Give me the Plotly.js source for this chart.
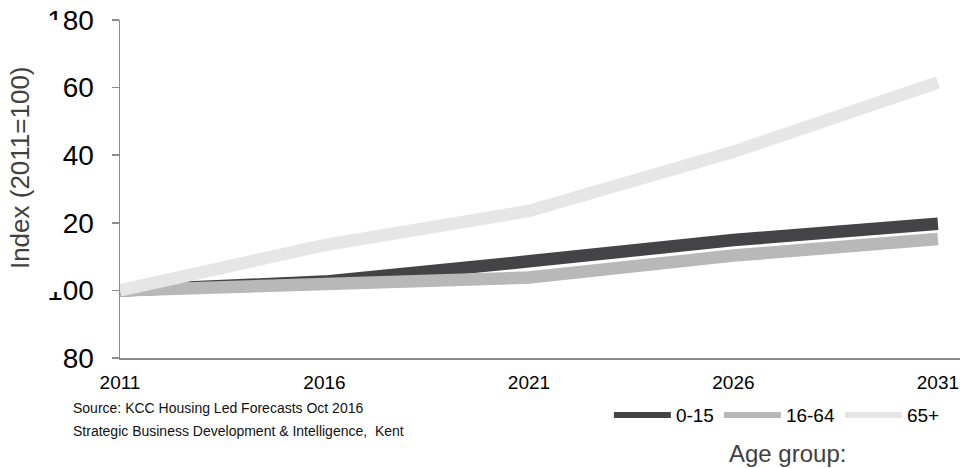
<!DOCTYPE html>
<html>
<head>
<meta charset="utf-8">
<script src="https://cdn.plot.ly/plotly-3.0.1.min.js"></script>
<style>
  html, body { margin: 0; padding: 0; background: #fff; }
  #chart { width: 960px; height: 468px; }
</style>
</head>
<body>
<div id="chart"></div>
<script>
// Population index by age group, Kent (2011 = 100)
const years = [2011, 2016, 2021, 2026, 2031];
const age0to15 = [100, 102.6, 108.6, 114.9, 119.7];
const age16to64 = [100, 101.5, 103.8, 110.3, 115.2];
const age65plus = [100, 113.4, 123.5, 141.0, 161.5];

const seriesNames = ['0-15', '16-64', '65+'];
const seriesValues = [age0to15, age16to64, age65plus];
const seriesColors = ['#444446', '#b8b8b9', '#e6e6e6'];

const yTicks = [80, 100, 120, 140, 160, 180];
const xTicks = [2011, 2016, 2021, 2026, 2031];

const traces = [];
// thick data lines
seriesNames.forEach((name, i) => {
  traces.push({
    type: 'scatter', mode: 'lines', name: name,
    x: years, y: seriesValues[i],
    line: { color: seriesColors[i], width: 12.5 },
    showlegend: false, hoverinfo: 'x+y+name'
  });
});
// legend keys with thinner strokes
seriesNames.forEach((name, i) => {
  traces.push({
    type: 'scatter', mode: 'lines', name: name,
    x: [null], y: [null],
    line: { color: seriesColors[i], width: 6 },
    showlegend: true, hoverinfo: 'skip'
  });
});

const layout = {
  width: 960, height: 468,
  margin: { l: 120, r: 0, t: 20, b: 110 },
  paper_bgcolor: '#ffffff', plot_bgcolor: '#ffffff',
  font: { family: 'Liberation Sans, Arial, sans-serif', color: '#000' },
  showlegend: true,
  xaxis: {
    range: [2011, 2031.54],
    tickvals: xTicks, ticktext: xTicks.map(String),
    showgrid: false, zeroline: false,
    showline: true, linecolor: '#8c8c8c', linewidth: 1.5,
    ticks: '', tickfont: { size: 19, color: '#000' },
    ticklabelstandoff: 7
  },
  yaxis: {
    range: [80, 180],
    tickvals: yTicks, ticktext: yTicks.map(String),
    showgrid: false, zeroline: false,
    showline: true, linecolor: '#8c8c8c', linewidth: 1.5,
    ticks: 'outside', ticklen: 7, tickwidth: 1.5, tickcolor: '#8c8c8c',
    tickfont: { size: 28, color: '#000' },
    ticklabelstandoff: 12
  },
  legend: {
    orientation: 'h',
    x: 0.582, xanchor: 'left',
    y: -0.113, yanchor: 'top',
    font: { size: 19, color: '#000' },
    itemwidth: 57,
    bgcolor: 'rgba(0,0,0,0)',
    traceorder: 'normal'
  },
  annotations: [
    {
      // vertical axis caption
      xref: 'paper', yref: 'paper', x: -0.119, y: 0.562,
      xanchor: 'center', yanchor: 'middle', showarrow: false, textangle: -90,
      text: 'Index (2011=100)', font: { size: 26, color: '#404040' }
    },
    {
      xref: 'paper', yref: 'paper', x: -0.058, y: -0.118,
      xanchor: 'left', yanchor: 'top', align: 'left', showarrow: false,
      text: 'Source: KCC Housing Led Forecasts Oct 2016',
      font: { size: 14, color: '#111' }
    },
    {
      xref: 'paper', yref: 'paper', x: -0.058, y: -0.186,
      xanchor: 'left', yanchor: 'top', align: 'left', showarrow: false,
      text: 'Strategic Business Development &amp; Intelligence,  Kent',
      font: { size: 14, color: '#111' }
    },
    {
      xref: 'paper', yref: 'paper', x: 0.795, y: -0.284,
      xanchor: 'center', yanchor: 'middle', showarrow: false,
      text: 'Age group:', font: { size: 24, color: '#404040' }
    }
  ],
  // white band over the leading digit column of the value labels
  shapes: [
    {
      type: 'rect', layer: 'above', xref: 'paper', yref: 'paper',
      x0: -0.0845, x1: -0.069, y0: 0.195, y1: 1.0,
      fillcolor: '#ffffff', line: { width: 0 }
    }
  ]
};

Plotly.newPlot('chart', traces, layout, { displayModeBar: false, staticPlot: true });
</script>
</body>
</html>
